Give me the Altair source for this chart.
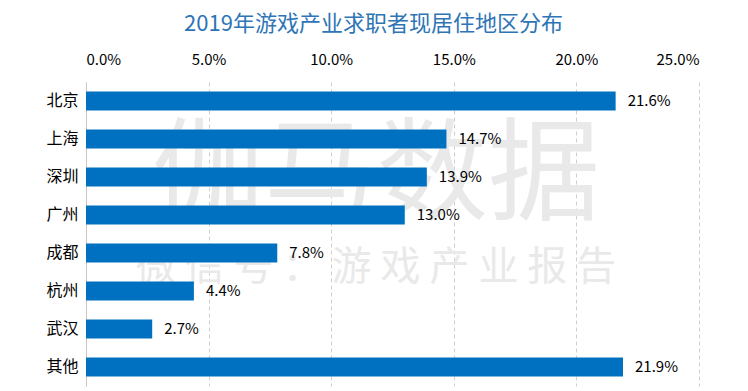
import altair as alt
import pandas as pd

regions = ["北京", "上海", "深圳", "广州", "成都", "杭州", "武汉", "其他"]
shares = [0.216, 0.147, 0.139, 0.130, 0.078, 0.044, 0.027, 0.219]
x_ticks = [0.0, 0.05, 0.10, 0.15, 0.20, 0.25]
title_text = "2019年游戏产业求职者现居住地区分布"
watermark_big = "伽马数据"
watermark_small = "微 信 号 ： 游 戏 产 业 报 告"

df = pd.DataFrame({"region": regions, "share": shares})

FONT = "Noto Sans CJK SC"
x_scale = alt.Scale(domain=[0, 0.25], nice=False)
y_scale = alt.Scale(domain=regions, paddingInner=0.5, paddingOuter=0.25)

base = alt.Chart(df)

wm1 = alt.Chart(pd.DataFrame({"t": [watermark_big]})).mark_text(
    font=FONT, fontSize=112, color="#e9e9e9", align="center", baseline="middle"
).encode(x=alt.value(290), y=alt.value(96), text="t:N")

wm2 = alt.Chart(pd.DataFrame({"t": [watermark_small]})).mark_text(
    font=FONT, fontSize=40, color="#e9e9e9", align="center", baseline="middle"
).encode(x=alt.value(290), y=alt.value(186), text="t:N")

bars = base.mark_bar(color="#0070C0").encode(
    x=alt.X(
        "share:Q",
        scale=x_scale,
        axis=alt.Axis(
            orient="top",
            format=".1%",
            values=x_ticks,
            title=None,
            domain=False,
            ticks=False,
            labelFont=FONT,
            labelFontSize=15,
            labelColor="#000000",
            labelPadding=15,
            grid=True,
            gridDash=[4, 3],
            gridColor="#cfcfcf",
        ),
    ),
    y=alt.Y(
        "region:N",
        scale=y_scale,
        sort=regions,
        axis=alt.Axis(
            title=None,
            ticks=False,
            domain=True,
            domainColor="#c8c8c8",
            labelFont=FONT,
            labelFontSize=16,
            labelColor="#000000",
            labelPadding=8,
        ),
    ),
)

labels = base.mark_text(
    align="left", baseline="middle", dx=12, font=FONT, fontSize=15, color="#000000"
).encode(
    x=alt.X("share:Q", scale=x_scale),
    y=alt.Y("region:N", scale=y_scale, sort=regions),
    text=alt.Text("share:Q", format=".1%"),
)

chart = (
    alt.layer(wm1, wm2, bars, labels)
    .properties(
        width=613,
        height=304,
        padding={"left": 78, "top": 74, "right": 41, "bottom": 5},
        autosize="none",
        title=alt.TitleParams(
            title_text,
            font=FONT,
            fontSize=22,
            fontWeight="normal",
            color="#2E75B6",
            anchor="middle",
            dx=-19,
            offset=16,
        ),
    )
    .configure_view(stroke=None)
)

chart.save("out.html", embed_options={"renderer": "svg", "actions": False})
